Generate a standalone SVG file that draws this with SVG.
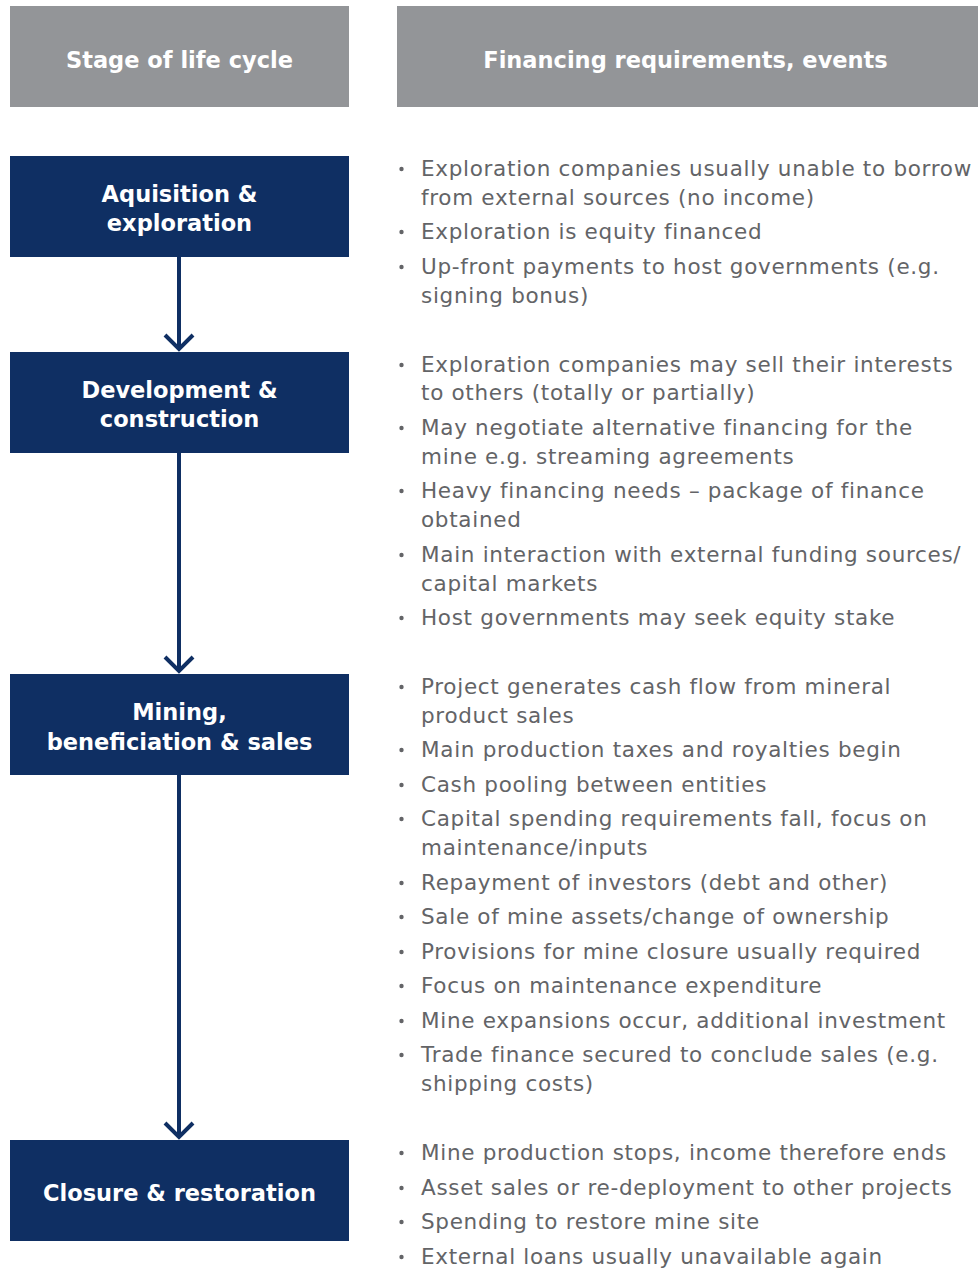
<svg xmlns="http://www.w3.org/2000/svg" width="978" height="1269" viewBox="0 0 978 1269">
<style>
.hdr{fill:#939598}
.stage{fill:#0f2f63}
.ht{font-family:"DejaVu Sans","Liberation Sans",sans-serif;font-weight:bold;font-size:22.5px;fill:#ffffff;text-anchor:middle}
.st{font-family:"DejaVu Sans","Liberation Sans",sans-serif;font-weight:bold;font-size:22.5px;fill:#ffffff;text-anchor:middle}
.bt{font-family:"DejaVu Sans","Liberation Sans",sans-serif;font-size:21.5px;letter-spacing:0.7px;fill:#636467}
.bul{fill:#636467}
.conn{stroke:#0f2f63;stroke-width:4;fill:none}
</style>
<rect width="978" height="1269" fill="#ffffff"/>
<g id="header-stage"><rect class="hdr" x="10" y="6" width="339" height="101"/><text class="ht" x="179.5" y="67.5">Stage of life cycle</text></g>
<g id="header-financing"><rect class="hdr" x="397" y="6" width="581" height="101"/><text class="ht" x="685.5" y="67.5">Financing requirements, events</text></g>

<g id="connectors">
<line class="conn" x1="179" y1="257" x2="179" y2="349"/>
<polyline class="conn" points="165,335 179,349 193,335"/>
<line class="conn" x1="179" y1="453" x2="179" y2="671"/>
<polyline class="conn" points="165,657 179,671 193,657"/>
<line class="conn" x1="179" y1="775" x2="179" y2="1137"/>
<polyline class="conn" points="165,1123 179,1137 193,1123"/>
</g>

<g id="stage-acquisition"><rect class="stage" x="10" y="156" width="339" height="101"/><text class="st" x="179.5" y="202">Aquisition &amp;</text><text class="st" x="179.5" y="231">exploration</text></g>
<g id="stage-development"><rect class="stage" x="10" y="352" width="339" height="101"/><text class="st" x="179.5" y="398">Development &amp;</text><text class="st" x="179.5" y="427">construction</text></g>
<g id="stage-mining"><rect class="stage" x="10" y="674" width="339" height="101"/><text class="st" x="179.5" y="720">Mining,</text><text class="st" x="179.5" y="750">beneficiation &amp; sales</text></g>
<g id="stage-closure"><rect class="stage" x="10" y="1140" width="339" height="101"/><text class="st" x="179.5" y="1201">Closure &amp; restoration</text></g>

<g id="bullets-acquisition">
<circle class="bul" cx="401.5" cy="169" r="2.2"/><text class="bt" x="421" y="176">Exploration companies usually unable to borrow</text><text class="bt" x="421" y="205">from external sources (no income)</text>
<circle class="bul" cx="401.5" cy="232" r="2.2"/><text class="bt" x="421" y="239">Exploration is equity financed</text>
<circle class="bul" cx="401.5" cy="267" r="2.2"/><text class="bt" x="421" y="274">Up-front payments to host governments (e.g.</text><text class="bt" x="421" y="303">signing bonus)</text>
</g>

<g id="bullets-development">
<circle class="bul" cx="401.5" cy="365" r="2.2"/><text class="bt" x="421" y="372">Exploration companies may sell their interests</text><text class="bt" x="421" y="400">to others (totally or partially)</text>
<circle class="bul" cx="401.5" cy="428" r="2.2"/><text class="bt" x="421" y="435">May negotiate alternative financing for the</text><text class="bt" x="421" y="464">mine e.g. streaming agreements</text>
<circle class="bul" cx="401.5" cy="491" r="2.2"/><text class="bt" x="421" y="498">Heavy financing needs – package of finance</text><text class="bt" x="421" y="527">obtained</text>
<circle class="bul" cx="401.5" cy="555" r="2.2"/><text class="bt" x="421" y="562">Main interaction with external funding sources/</text><text class="bt" x="421" y="591">capital markets</text>
<circle class="bul" cx="401.5" cy="618" r="2.2"/><text class="bt" x="421" y="625">Host governments may seek equity stake</text>
</g>

<g id="bullets-mining">
<circle class="bul" cx="401.5" cy="687" r="2.2"/><text class="bt" x="421" y="694">Project generates cash flow from mineral</text><text class="bt" x="421" y="723">product sales</text>
<circle class="bul" cx="401.5" cy="750" r="2.2"/><text class="bt" x="421" y="757">Main production taxes and royalties begin</text>
<circle class="bul" cx="401.5" cy="785" r="2.2"/><text class="bt" x="421" y="792">Cash pooling between entities</text>
<circle class="bul" cx="401.5" cy="819" r="2.2"/><text class="bt" x="421" y="826">Capital spending requirements fall, focus on</text><text class="bt" x="421" y="855">maintenance/inputs</text>
<circle class="bul" cx="401.5" cy="883" r="2.2"/><text class="bt" x="421" y="890">Repayment of investors (debt and other)</text>
<circle class="bul" cx="401.5" cy="917" r="2.2"/><text class="bt" x="421" y="924">Sale of mine assets/change of ownership</text>
<circle class="bul" cx="401.5" cy="952" r="2.2"/><text class="bt" x="421" y="959">Provisions for mine closure usually required</text>
<circle class="bul" cx="401.5" cy="986" r="2.2"/><text class="bt" x="421" y="993">Focus on maintenance expenditure</text>
<circle class="bul" cx="401.5" cy="1021" r="2.2"/><text class="bt" x="421" y="1028">Mine expansions occur, additional investment</text>
<circle class="bul" cx="401.5" cy="1055" r="2.2"/><text class="bt" x="421" y="1062">Trade finance secured to conclude sales (e.g.</text><text class="bt" x="421" y="1091">shipping costs)</text>
</g>

<g id="bullets-closure">
<circle class="bul" cx="401.5" cy="1153" r="2.2"/><text class="bt" x="421" y="1160">Mine production stops, income therefore ends</text>
<circle class="bul" cx="401.5" cy="1188" r="2.2"/><text class="bt" x="421" y="1195">Asset sales or re-deployment to other projects</text>
<circle class="bul" cx="401.5" cy="1222" r="2.2"/><text class="bt" x="421" y="1229">Spending to restore mine site</text>
<circle class="bul" cx="401.5" cy="1257" r="2.2"/><text class="bt" x="421" y="1264">External loans usually unavailable again</text>
</g>
</svg>
